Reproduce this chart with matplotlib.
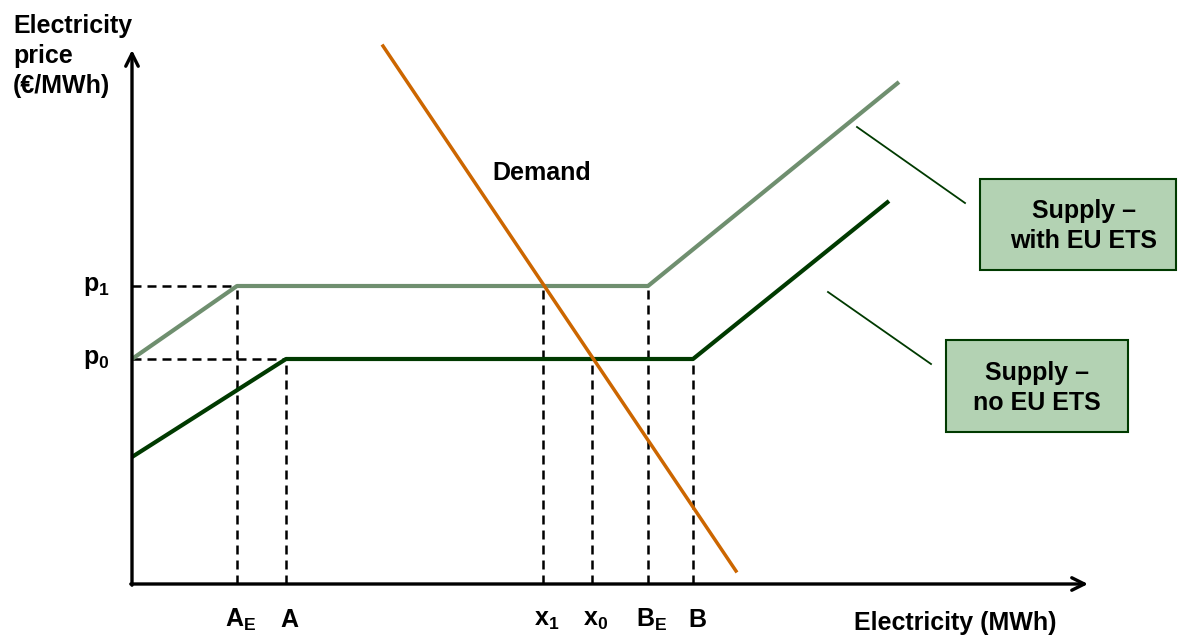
import matplotlib
matplotlib.use("Agg")
import matplotlib.pyplot as plt
from matplotlib.patches import Rectangle

plt.rcParams['font.family'] = ['Liberation Sans', 'DejaVu Sans']
plt.rcParams['font.weight'] = 'bold'
plt.rcParams['mathtext.fontset'] = 'custom'
plt.rcParams['mathtext.rm'] = 'Liberation Sans:bold'
plt.rcParams['mathtext.bf'] = 'Liberation Sans:bold'
plt.rcParams['mathtext.it'] = 'Liberation Sans:bold'

# Supply curve with EU ETS (quantity, price)
supply_ets_x = [0.0, 10.5, 51.6, 76.7]
supply_ets_y = [22.5, 29.8, 29.8, 50.2]

# Supply curve without EU ETS
supply_noets_x = [0.0, 15.4, 56.1, 75.7]
supply_noets_y = [12.7, 22.5, 22.5, 38.3]

# Demand curve
demand_x = [25.1, 60.4]
demand_y = [53.8, 1.3]

# Price levels
price_levels = [29.8, 22.5]
price_labels = [r'$\mathbf{p_1}$', r'$\mathbf{p_0}$']

# Quantity markers on the horizontal axis
qty_names = [r'$\mathbf{A_E}$', r'$\mathbf{A}$', r'$\mathbf{x_1}$',
             r'$\mathbf{x_0}$', r'$\mathbf{B_E}$', r'$\mathbf{B}$']
qty_x = [10.5, 15.4, 41.1, 46.0, 51.6, 56.1]
qty_y = [29.8, 22.5, 29.8, 22.5, 29.8, 22.5]

C_LIGHT = '#6F8F6F'
C_DARK = '#003A00'
C_DEMAND = '#CC6600'
C_BOX = '#B3D2B3'
FS = 18

fig = plt.figure(figsize=(11.79, 6.36), dpi=100)
ax = fig.add_axes([0, 0, 1, 1])
ax.set_xlim(-13.2, 104.7)
ax.set_ylim(-5.2, 58.4)
ax.axis('off')

dash = (3.6, 2.4)

# guide lines to the axes
for lvl, x_end in zip(price_levels, [qty_x[0], qty_x[1]]):
    ax.plot([0, x_end], [lvl, lvl], color='black', lw=1.8, dashes=dash, zorder=1)
for qx, qy in zip(qty_x, qty_y):
    ax.plot([qx, qx], [0, qy], color='black', lw=1.8, dashes=dash, zorder=1)

# curves
ax.plot(supply_ets_x, supply_ets_y, color=C_LIGHT, lw=3.0, solid_capstyle='butt', zorder=3)
ax.plot(supply_noets_x, supply_noets_y, color=C_DARK, lw=3.0, solid_capstyle='butt', zorder=3)
ax.plot(demand_x, demand_y, color=C_DEMAND, lw=2.5, zorder=4)

# axes with open arrowheads
arrow = dict(arrowstyle='->,head_length=0.9,head_width=0.45', lw=2.4, color='black',
             shrinkA=0, shrinkB=0)
ax.annotate('', xy=(95.6, 0), xytext=(-0.12, 0), arrowprops=arrow, zorder=5)
ax.annotate('', xy=(0, 53.4), xytext=(0, -0.12), arrowprops=arrow, zorder=5)

# axis titles
ax.text(-11.9, 57.0, 'Electricity\nprice\n(€/MWh)', fontsize=FS, fontweight='bold',
        ha='left', va='top', linespacing=1.32)
ax.text(82.3, -3.9, 'Electricity (MWh)', fontsize=FS, fontweight='bold',
        ha='center', va='center')

# price labels
for lvl, lab in zip(price_levels, price_labels):
    ax.text(-2.2, lvl, lab, fontsize=FS, ha='right', va='center')

# quantity labels
for qx, lab in zip(qty_x, qty_names):
    ax.text(qx + 0.4, -3.6, lab, fontsize=FS, ha='center', va='center')

ax.text(41.0, 41.1, 'Demand', fontsize=FS, fontweight='bold', ha='center', va='center')

# callout boxes
ax.add_patch(Rectangle((84.8, 31.4), 19.6, 9.1, facecolor=C_BOX, edgecolor=C_DARK,
                       lw=1.5, zorder=2))
ax.text(95.2, 35.8, 'Supply –\nwith EU ETS', fontsize=FS, fontweight='bold',
        ha='center', va='center', linespacing=1.3, zorder=3)
ax.plot([72.5, 83.3], [45.7, 38.1], color=C_DARK, lw=1.3)

ax.add_patch(Rectangle((81.4, 15.2), 18.2, 9.2, facecolor=C_BOX, edgecolor=C_DARK,
                       lw=1.5, zorder=2))
ax.text(90.5, 19.6, 'Supply –\nno EU ETS', fontsize=FS, fontweight='bold',
        ha='center', va='center', linespacing=1.3, zorder=3)
ax.plot([69.6, 79.9], [29.2, 22.0], color=C_DARK, lw=1.3)

fig.savefig('out.png', dpi=100)
